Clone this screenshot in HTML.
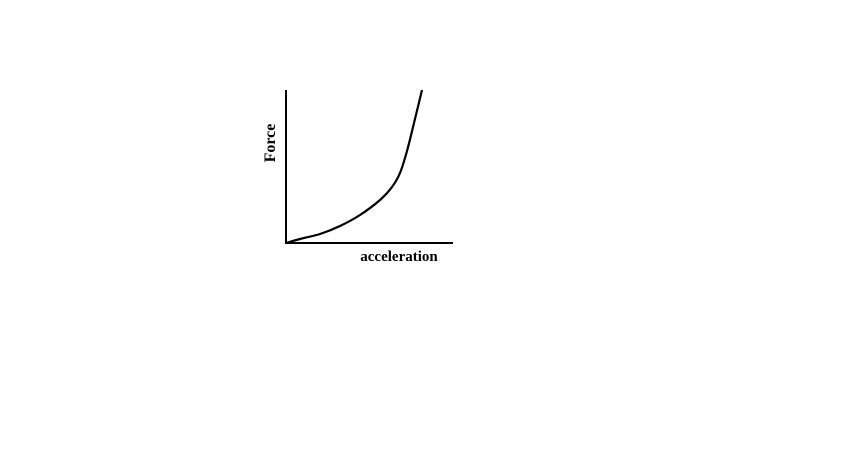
<!DOCTYPE html>
<html><head><meta charset="utf-8"><style>
html,body{margin:0;padding:0;background:#fff;width:850px;height:460px;overflow:hidden}
</style></head><body>
<svg width="850" height="460">
<line x1="286" y1="90" x2="286" y2="244" stroke="#000" stroke-width="2"/>
<line x1="285" y1="243" x2="453" y2="243" stroke="#000" stroke-width="2"/>
<text x="275" y="143" transform="rotate(-90 275 143)" text-anchor="middle" font-family="Liberation Serif, serif" font-weight="bold" font-size="16">Force</text>
<text x="399" y="261" text-anchor="middle" font-family="Liberation Serif, serif" font-weight="bold" font-size="15">acceleration</text>
<path id="curve" fill="none" stroke="#000" stroke-width="2.2" stroke-linejoin="round"/>
</svg>
<script>
const accel = [0, 14, 34, 54, 74, 94, 106, 114, 121, 128, 136];
const force = [0, 4, 9, 17, 28, 43, 56, 70, 92, 120, 153];
function xs(v){return 286 + v;}
function ys(v){return 243 - v;}
let d = '';
for (let i = 0; i < accel.length; i++) {
  const px = xs(accel[i]), py = ys(force[i]);
  if (i === 0) d += 'M' + px + ' ' + py;
  else {
    const p0x = xs(accel[Math.max(0,i-2)]), p0y = ys(force[Math.max(0,i-2)]);
    const p1x = xs(accel[i-1]), p1y = ys(force[i-1]);
    const p3x = xs(accel[Math.min(accel.length-1,i+1)]), p3y = ys(force[Math.min(accel.length-1,i+1)]);
    const c1x = p1x + (px - p0x)/6, c1y = p1y + (py - p0y)/6;
    const c2x = px - (p3x - p1x)/6, c2y = py - (p3y - p1y)/6;
    d += ' C' + c1x + ' ' + c1y + ' ' + c2x + ' ' + c2y + ' ' + px + ' ' + py;
  }
}
document.getElementById('curve').setAttribute('d', d);
</script>
</body></html>
